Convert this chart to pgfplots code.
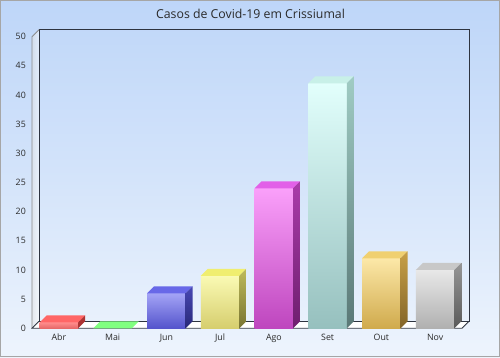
\documentclass[border=0pt]{standalone}
\usepackage{pgfplots}
\pgfplotsset{compat=1.18}
\usepackage{fontspec}
\setmainfont{Open Sans}
\definecolor{bgtop}{HTML}{A8C8F8}
\definecolor{bgmid}{HTML}{D4E4FA}
\definecolor{axisdark}{HTML}{2E3440}
\definecolor{txt}{HTML}{2A2A2A}
\pgfdeclareverticalshading{bgshade}{100bp}{color(0bp)=(white); color(8bp)=(white); color(50bp)=(bgmid); color(100bp)=(bgtop)}
\begin{document}
\begin{tikzpicture}[x=1pt,y=1pt]
\shade[shading=bgshade] (0,0) rectangle (500,357);
\draw[draw=black!35, line width=1.2pt] (0.6,0.6) rectangle (499.4,356.4);
\node[text=txt, font=\fontsize{12.3}{14}\selectfont] at (250.5,343) {Casos de Covid-19 em Crissiumal};
\begin{axis}[
  at={(32pt,28.7pt)}, anchor=south west,
  scale only axis, width=430pt, height=291.6pt,
  xmin=-0.5, xmax=7.5, ymin=0, ymax=50,
  clip=false,
  axis line style={draw=none},
  major tick length=0pt,
  ytick={0,5,...,50},
  xtick={0,...,7},
  xticklabels={Abr,Mai,Jun,Jul,Ago,Set,Out,Nov},
  /pgf/number format/assume math mode=true,
  tick label style={text=txt, font=\fontsize{8.8}{10}\selectfont},
  yticklabel style={inner sep=0pt, xshift=-6pt},
  xticklabel style={inner sep=0pt, yshift=-5.5pt},
]
% walls and floor
\fill[white] (axis cs:-0.5,0) -- (axis cs:7.5,0) -- (axis cs:7.63,1.2) -- (axis cs:-0.37,1.2) -- cycle;
\shade[left color=black!12, right color=white, opacity=0.5] (axis cs:-0.5,0) -- (axis cs:-0.37,1.2) -- (axis cs:-0.37,51.2) -- (axis cs:-0.5,50) -- cycle;
\draw[axisdark, line width=0.8pt] (axis cs:-0.37,1.2) rectangle (axis cs:7.63,51.2);
\draw[black!45, line width=0.8pt] (axis cs:-0.5,0) -- (axis cs:-0.5,50) -- (axis cs:-0.37,51.2);
\draw[axisdark, line width=0.8pt] (axis cs:-0.37,1.2) -- (axis cs:-0.5,0) -- (axis cs:7.5,0) -- (axis cs:7.63,1.2);
% Abr
\addplot[ybar, bar width=0.716, bar shift=0pt, draw=none, top color=red!45!white, bottom color=red!55!white!90!black] coordinates {(0,1)};
\addplot[draw=none, fill=red!60!white] coordinates {(-0.358,1) (0.358,1) (0.488,2.2) (-0.228,2.2)} -- cycle;
\addplot[draw=none, fill=red!60!black!80!white] coordinates {(0.358,0) (0.488,1.2) (0.488,2.2) (0.358,1)} -- cycle;
% Mai
\addplot[draw=none, fill=green!50!white] coordinates {(0.642,0) (1.358,0) (1.488,1.2) (0.772,1.2)} -- cycle;
% Jun
\addplot[ybar, bar width=0.716, bar shift=0pt, draw=none, top color={rgb,255:red,164;green,164;blue,246}, bottom color={rgb,255:red,84;green,84;blue,204}] coordinates {(2,6)};
\addplot[draw=none, fill={rgb,255:red,104;green,104;blue,232}] coordinates {(1.642,6) (2.358,6) (2.488,7.2) (1.772,7.2)} -- cycle;
\addplot[draw=none, top color={rgb,255:red,72;green,72;blue,180}, bottom color={rgb,255:red,40;green,40;blue,120}] coordinates {(2.358,0) (2.488,1.2) (2.488,7.2) (2.358,6)} -- cycle;
% Jul
\addplot[ybar, bar width=0.716, bar shift=0pt, draw=none, top color={rgb,255:red,250;green,250;blue,180}, bottom color={rgb,255:red,214;green,206;blue,110}] coordinates {(3,9)};
\addplot[draw=none, fill={rgb,255:red,240;green,238;blue,112}] coordinates {(2.642,9) (3.358,9) (3.488,10.2) (2.772,10.2)} -- cycle;
\addplot[draw=none, top color={rgb,255:red,190;green,186;blue,90}, bottom color={rgb,255:red,120;green,116;blue,50}] coordinates {(3.358,0) (3.488,1.2) (3.488,10.2) (3.358,9)} -- cycle;
% Ago
\addplot[ybar, bar width=0.716, bar shift=0pt, draw=none, top color={rgb,255:red,250;green,160;blue,250}, bottom color={rgb,255:red,190;green,70;blue,190}] coordinates {(4,24)};
\addplot[draw=none, fill={rgb,255:red,226;green,96;blue,232}] coordinates {(3.642,24) (4.358,24) (4.488,25.2) (3.772,25.2)} -- cycle;
\addplot[draw=none, top color={rgb,255:red,170;green,60;blue,170}, bottom color={rgb,255:red,110;green,30;blue,110}] coordinates {(4.358,0) (4.488,1.2) (4.488,25.2) (4.358,24)} -- cycle;
% Set
\addplot[ybar, bar width=0.716, bar shift=0pt, draw=none, top color={rgb,255:red,226;green,255;blue,252}, bottom color={rgb,255:red,150;green,192;blue,190}] coordinates {(5,42)};
\addplot[draw=none, fill={rgb,255:red,200;green,240;blue,232}] coordinates {(4.642,42) (5.358,42) (5.488,43.2) (4.772,43.2)} -- cycle;
\addplot[draw=none, top color={rgb,255:red,160;green,204;blue,196}, bottom color={rgb,255:red,90;green,120;blue,118}] coordinates {(5.358,0) (5.488,1.2) (5.488,43.2) (5.358,42)} -- cycle;
% Out
\addplot[ybar, bar width=0.716, bar shift=0pt, draw=none, top color={rgb,255:red,252;green,232;blue,168}, bottom color={rgb,255:red,208;green,170;blue,76}] coordinates {(6,12)};
\addplot[draw=none, fill={rgb,255:red,240;green,208;blue,112}] coordinates {(5.642,12) (6.358,12) (6.488,13.2) (5.772,13.2)} -- cycle;
\addplot[draw=none, top color={rgb,255:red,200;green,160;blue,70}, bottom color={rgb,255:red,130;green,100;blue,40}] coordinates {(6.358,0) (6.488,1.2) (6.488,13.2) (6.358,12)} -- cycle;
% Nov
\addplot[ybar, bar width=0.716, bar shift=0pt, draw=none, top color={rgb,255:red,232;green,232;blue,232}, bottom color={rgb,255:red,176;green,176;blue,176}] coordinates {(7,10)};
\addplot[draw=none, fill={rgb,255:red,200;green,200;blue,200}] coordinates {(6.642,10) (7.358,10) (7.488,11.2) (6.772,11.2)} -- cycle;
\addplot[draw=none, top color={rgb,255:red,150;green,150;blue,150}, bottom color={rgb,255:red,90;green,90;blue,90}] coordinates {(7.358,0) (7.488,1.2) (7.488,11.2) (7.358,10)} -- cycle;
\end{axis}
\end{tikzpicture}
\end{document}
